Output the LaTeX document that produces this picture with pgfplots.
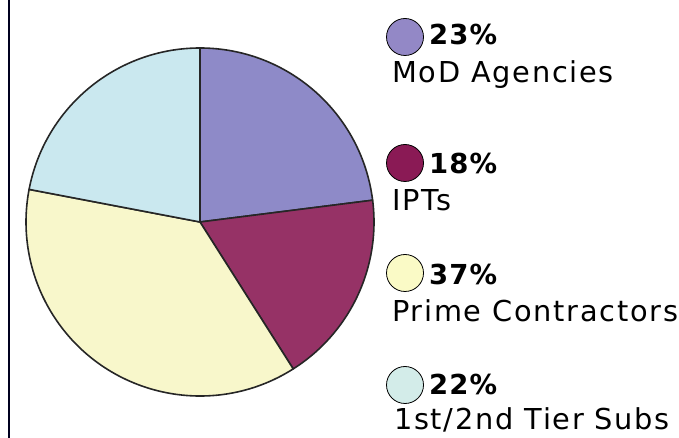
\documentclass[border=0pt]{standalone}
\usepackage{pgfplots}
\usepackage{pgfplotstable}
\pgfplotsset{compat=1.18}
\usepackage{fontspec}
\setmainfont{DejaVu Sans}
\newfontfamily\labfont[LetterSpace=6]{DejaVu Sans}
\newfontfamily\pctfont[LetterSpace=4]{DejaVu Sans Bold}

\definecolor{cMoD}{HTML}{8E8AC8}
\definecolor{cIPT}{HTML}{963266}
\definecolor{cPrime}{HTML}{F8F7CB}
\definecolor{cTier}{HTML}{CAE8EF}
\definecolor{lMoD}{HTML}{9388C6}
\definecolor{lIPT}{HTML}{8A1A55}
\definecolor{lPrime}{HTML}{FAFAC6}
\definecolor{lTier}{HTML}{D3ECE9}

% shares of the pie (percent), clockwise from 12 o'clock
\pgfplotstableread{
pct
23
18
37
22
}\piedata

\pgfplotstablegetelem{0}{pct}\of\piedata \let\pA\pgfplotsretval
\pgfplotstablegetelem{1}{pct}\of\piedata \let\pB\pgfplotsretval
\pgfplotstablegetelem{2}{pct}\of\piedata \let\pC\pgfplotsretval
\pgfplotstablegetelem{3}{pct}\of\piedata \let\pD\pgfplotsretval
\pgfmathsetmacro\aA{90}
\pgfmathsetmacro\aB{\aA-3.6*\pA}
\pgfmathsetmacro\aC{\aB-3.6*\pB}
\pgfmathsetmacro\aD{\aC-3.6*\pC}
\pgfmathsetmacro\aE{\aD-3.6*\pD}

\newcommand{\slice}[3]{%
  \filldraw[fill=#3, draw=black!85, line width=1.6bp, line join=round]
    (axis cs:200,216) -- ([shift={(#1:174bp)}]axis cs:200,216)
    arc[start angle=#1, end angle=#2, radius=174bp] -- cycle;}

\begin{document}
\begin{tikzpicture}
\begin{axis}[
  name=main,
  at={(0,0)}, anchor=south west,
  scale only axis, width=679bp, height=438bp,
  xmin=0, xmax=679, ymin=0, ymax=438,
  axis lines=none, clip=false,
]
% left rule
\addplot[color=black!80!blue!60!black, line width=2.5bp] coordinates {(9,0) (9,438)};

\slice{\aA}{\aB}{cMoD}
\slice{\aB}{\aC}{cIPT}
\slice{\aC}{\aD}{cPrime}
\slice{\aD}{\aE}{cTier}

% legend markers
\addplot[only marks, mark=*, mark size=18.5bp, mark options={fill=lMoD, draw=black, line width=0.8bp}] coordinates {(405,401)};
\addplot[only marks, mark=*, mark size=18.5bp, mark options={fill=lIPT, draw=black, line width=0.8bp}] coordinates {(405,275)};
\addplot[only marks, mark=*, mark size=18.5bp, mark options={fill=lPrime, draw=black, line width=0.8bp}] coordinates {(405,165)};
\addplot[only marks, mark=*, mark size=18.5bp, mark options={fill=lTier, draw=black, line width=0.8bp}] coordinates {(405,53)};

\node[anchor=base west, inner sep=0pt, font={\pctfont\fontsize{27.5bp}{30bp}\selectfont}] at (axis cs:429,393) {\pA\%};
\node[anchor=base west, inner sep=0pt, font={\labfont\fontsize{28.8bp}{32bp}\selectfont}] at (axis cs:392,355) {MoD Agencies};
\node[anchor=base west, inner sep=0pt, font={\pctfont\fontsize{27.5bp}{30bp}\selectfont}] at (axis cs:429,264) {\pB\%};
\node[anchor=base west, inner sep=0pt, font={\labfont\fontsize{28.8bp}{32bp}\selectfont}] at (axis cs:392,227) {IPTs};
\node[anchor=base west, inner sep=0pt, font={\pctfont\fontsize{27.5bp}{30bp}\selectfont}] at (axis cs:429,153) {\pC\%};
\node[anchor=base west, inner sep=0pt, font={\labfont\fontsize{28.8bp}{32bp}\selectfont}] at (axis cs:392,116) {Prime Contractors};
\node[anchor=base west, inner sep=0pt, font={\pctfont\fontsize{27.5bp}{30bp}\selectfont}] at (axis cs:429,43) {\pD\%};
\node[anchor=base west, inner sep=0pt, font={\labfont\fontsize{28.8bp}{32bp}\selectfont}] at (axis cs:394,9) {1st/2nd Tier Subs};
\end{axis}
\pgfresetboundingbox
\path[use as bounding box] (main.south west) rectangle (main.north east);
\end{tikzpicture}
\end{document}
